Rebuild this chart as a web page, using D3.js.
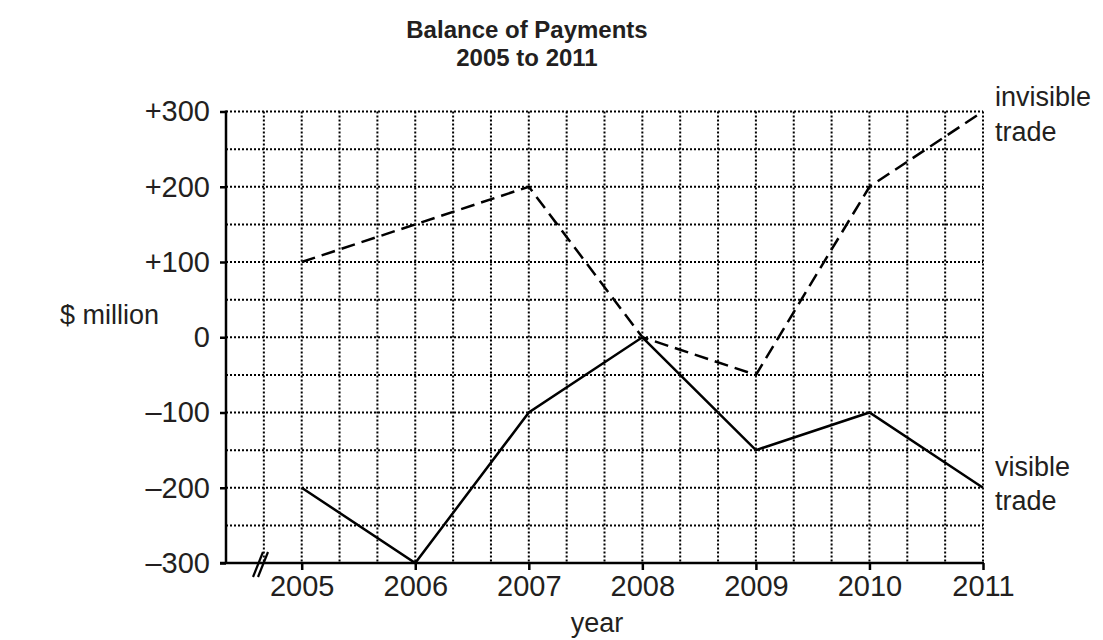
<!DOCTYPE html>
<html>
<head>
<meta charset="utf-8">
<script src="https://cdn.jsdelivr.net/npm/d3@7/dist/d3.min.js"></script>
<style>
  html, body { margin: 0; padding: 0; background: #fff; }
  svg { display: block; }
  text { font-family: "Liberation Sans", Arial, Helvetica, sans-serif; fill: #231f20; }
</style>
</head>
<body>
<svg id="chart" width="1103" height="640"></svg>
<script>
const years = [2005, 2006, 2007, 2008, 2009, 2010, 2011];
const invisibleTrade = [100, 150, 200, 0, -50, 200, 300];
const visibleTrade = [-200, -300, -100, 0, -150, -100, -200];
const yTickValues = [300, 200, 100, 0, -100, -200, -300];
const yTickLabels = ["+300", "+200", "+100", "0", "\u2013100", "\u2013200", "\u2013300"];
const titleLines = ["Balance of Payments", "2005 to 2011"];

const svg = d3.select("#chart");
const ink = "#000";

const x = d3.scaleLinear().domain([2005 - 2/3, 2011]).range([226, 983]);
const y = d3.scaleLinear().domain([-300, 300]).range([563, 111.5]);

// grid
const vGrid = d3.range(1, 21).map(k => 2005 - 2/3 + k / 3);
const hGrid = d3.range(-250, 301, 50);
const grid = svg.append("g").attr("stroke", ink).attr("stroke-width", 2).attr("stroke-dasharray", "2,2");
grid.selectAll("line.v").data(vGrid).join("line").attr("class", "v")
  .attr("x1", d => x(d)).attr("x2", d => x(d)).attr("y1", y(300)).attr("y2", y(-300));
grid.selectAll("line.h").data(hGrid).join("line").attr("class", "h")
  .attr("x1", x.range()[0]).attr("x2", x.range()[1]).attr("y1", d => y(d)).attr("y2", d => y(d));

// axes
const yAxis = d3.axisLeft(y).tickValues(yTickValues).tickFormat((d, i) => yTickLabels[i]).tickSize(6).tickPadding(10);
const gy = svg.append("g").attr("transform", `translate(${x.range()[0]},0)`).call(yAxis);
gy.select(".domain").remove();
gy.selectAll(".tick line").attr("stroke", ink).attr("stroke-width", 2.5);
gy.selectAll(".tick text").attr("font-size", 29).attr("fill", "#231f20")
  .attr("font-family", "Liberation Sans, Arial, sans-serif");

const xAxis = d3.axisBottom(x).tickValues(years).tickFormat(d3.format("d")).tickSize(7).tickPadding(5);
const gx = svg.append("g").attr("transform", `translate(0,${y(-300)})`).call(xAxis);
gx.select(".domain").remove();
gx.selectAll(".tick line").attr("stroke", ink).attr("stroke-width", 2.5);
gx.selectAll(".tick text").attr("font-size", 29).attr("fill", "#231f20")
  .attr("font-family", "Liberation Sans, Arial, sans-serif");

svg.append("line").attr("x1", x.range()[0]).attr("x2", x.range()[0])
  .attr("y1", y(300) - 1).attr("y2", y(-300)).attr("stroke", ink).attr("stroke-width", 2.5);
svg.append("line").attr("x1", x.range()[0] - 6).attr("x2", x.range()[1] + 1)
  .attr("y1", y(-300)).attr("y2", y(-300)).attr("stroke", ink).attr("stroke-width", 2.5);

// axis break marks
const brk = svg.append("g").attr("stroke", ink).attr("stroke-width", 2.2);
[0, 5].forEach(o => {
  brk.append("line").attr("x1", 253 + o).attr("y1", y(-300) + 14).attr("x2", 263 + o).attr("y2", y(-300) - 11);
});

// lines
const line = d3.line().x((d, i) => x(years[i])).y(d => y(d));
svg.append("path").datum(invisibleTrade).attr("d", line).attr("fill", "none")
  .attr("stroke", ink).attr("stroke-width", 2.5).attr("stroke-dasharray", "14,7");
svg.append("path").datum(visibleTrade).attr("d", line).attr("fill", "none")
  .attr("stroke", ink).attr("stroke-width", 2.5);

// series labels
const lx = x(2011) + 12;
svg.append("text").attr("x", lx).attr("y", 106).attr("font-size", 27).text("invisible");
svg.append("text").attr("x", lx).attr("y", 141).attr("font-size", 27).text("trade");
svg.append("text").attr("x", lx).attr("y", 476).attr("font-size", 27).text("visible");
svg.append("text").attr("x", lx).attr("y", 510).attr("font-size", 27).text("trade");

// axis titles
svg.append("text").attr("x", 60).attr("y", 324).attr("font-size", 27).text("$ million");
svg.append("text").attr("x", 597).attr("y", 632).attr("font-size", 27).attr("text-anchor", "middle").text("year");

// title
svg.append("text").attr("x", 527).attr("y", 38).attr("font-size", 24).attr("font-weight", "bold")
  .attr("text-anchor", "middle").text(titleLines[0]);
svg.append("text").attr("x", 527).attr("y", 66).attr("font-size", 24).attr("font-weight", "bold")
  .attr("text-anchor", "middle").text(titleLines[1]);
</script>
</body>
</html>
